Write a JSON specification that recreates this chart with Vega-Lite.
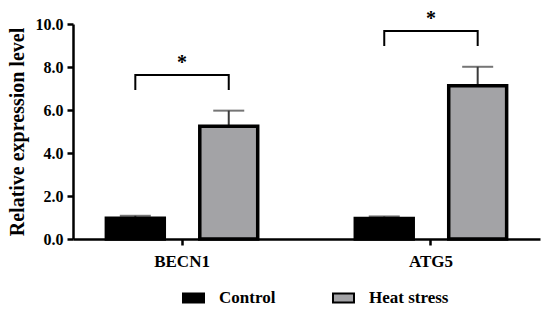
{
  "$schema": "https://vega.github.io/schema/vega-lite/v6.json",
  "width": 467,
  "height": 215,
  "autosize": {"type": "none"},
  "padding": {"left": 73, "top": 24, "right": 10, "bottom": 70},
  "background": "white",
  "config": {
    "view": {"stroke": null},
    "font": "Liberation Serif",
    "axis": {"grid": false, "domainColor": "black", "domainWidth": 2.5, "tickColor": "black", "tickWidth": 2.5, "tickSize": 6, "labelColor": "black", "labelFont": "Liberation Serif", "labelFontWeight": "bold", "titleFont": "Liberation Serif", "titleFontWeight": "bold", "titleColor": "black"}
  },
  "datasets": {
    "bars": [
      {"gene": "BECN1", "group": "Control", "value": 0.96, "upper": 1.08},
      {"gene": "BECN1", "group": "Heat stress", "value": 5.25, "upper": 5.97},
      {"gene": "ATG5", "group": "Control", "value": 0.95, "upper": 1.05},
      {"gene": "ATG5", "group": "Heat stress", "value": 7.13, "upper": 8.01}
    ],
    "brackets": [
      {"gene": "BECN1", "group": "Control", "value": 6.93, "ord": 1},
      {"gene": "BECN1", "group": "Control", "value": 7.63, "ord": 2},
      {"gene": "BECN1", "group": "Heat stress", "value": 7.63, "ord": 3},
      {"gene": "BECN1", "group": "Heat stress", "value": 6.93, "ord": 4},
      {"gene": "ATG5", "group": "Control", "value": 8.98, "ord": 1},
      {"gene": "ATG5", "group": "Control", "value": 9.67, "ord": 2},
      {"gene": "ATG5", "group": "Heat stress", "value": 9.67, "ord": 3},
      {"gene": "ATG5", "group": "Heat stress", "value": 8.98, "ord": 4}
    ],
    "stars": [
      {"gene": "BECN1", "value": 7.63, "label": "*"},
      {"gene": "ATG5", "value": 9.67, "label": "*"}
    ]
  },
  "encoding": {
    "x": {
      "field": "gene", "type": "nominal",
      "scale": {"type": "band", "domain": ["BECN1", "ATG5"], "paddingInner": 0.392, "paddingOuter": 0.134},
      "axis": {"title": null, "labelAngle": 0, "labelFontSize": 17, "labelPadding": 8}
    },
    "y": {
      "field": "value", "type": "quantitative",
      "scale": {"domain": [0, 10], "nice": false, "zero": true},
      "axis": {"title": "Relative expression level", "values": [0, 2, 4, 6, 8, 10], "format": ".1f", "labelFontSize": 16, "labelPadding": 4, "titleFontSize": 20, "titlePadding": 8}
    }
  },
  "layer": [
    {
      "data": {"name": "bars"},
      "mark": {"type": "rule", "color": "#3a3a3a", "strokeWidth": 2},
      "encoding": {
        "xOffset": {"field": "group", "type": "nominal", "scale": {"type": "band", "domain": ["Control", "Heat stress"], "paddingInner": 0.38, "paddingOuter": 0}},
        "y2": {"field": "upper"}
      }
    },
    {
      "data": {"name": "bars"},
      "mark": {"type": "tick", "orient": "horizontal", "size": 31, "thickness": 2, "color": "#3a3a3a"},
      "encoding": {
        "xOffset": {"field": "group", "type": "nominal"},
        "y": {"field": "upper", "type": "quantitative", "title": "Relative expression level"}
      }
    },
    {
      "data": {"name": "bars"},
      "mark": {"type": "bar", "stroke": "black", "strokeWidth": 3.5},
      "encoding": {
        "xOffset": {"field": "group", "type": "nominal"},
        "color": {
          "field": "group", "type": "nominal",
          "scale": {"domain": ["Control", "Heat stress"], "range": ["black", "#a3a3a6"]},
          "legend": {
            "title": null, "orient": "none", "direction": "horizontal", "legendX": 109, "legendY": 262,
            "symbolType": "M-1,-0.43H1V0.43H-1Z", "symbolSize": 441, "symbolStrokeWidth": 2, "symbolStrokeColor": "black",
            "labelFont": "Liberation Serif", "labelFontWeight": "bold", "labelFontSize": 17, "labelColor": "black",
            "labelOffset": 14, "columnPadding": 53, "padding": 0
          }
        }
      }
    },
    {
      "data": {"name": "brackets"},
      "mark": {"type": "line", "color": "black", "strokeWidth": 2},
      "encoding": {
        "xOffset": {"field": "group", "type": "nominal"},
        "order": {"field": "ord", "type": "quantitative"},
        "detail": {"field": "gene", "type": "nominal"}
      }
    },
    {
      "data": {"name": "stars"},
      "mark": {"type": "text", "font": "Liberation Serif", "fontWeight": "bold", "fontSize": 20, "baseline": "alphabetic", "dy": -6, "color": "black"},
      "encoding": {
        "text": {"field": "label"}
      }
    }
  ]
}
